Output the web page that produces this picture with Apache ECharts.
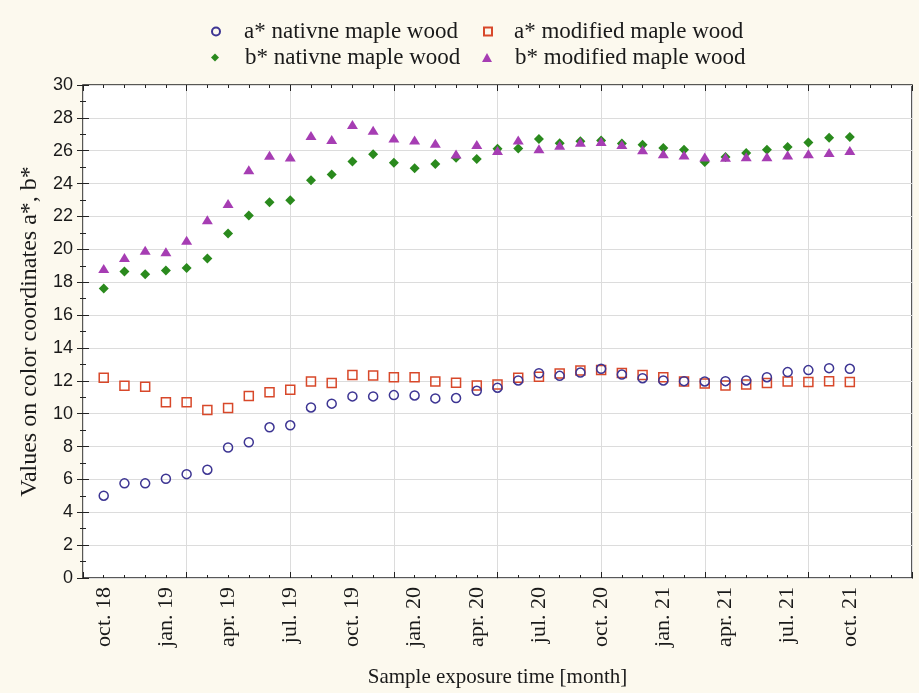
<!DOCTYPE html>
<html>
<head>
<meta charset="utf-8">
<script src="https://cdn.jsdelivr.net/npm/echarts@6/dist/echarts.min.js"></script>
<style>
html,body{margin:0;padding:0;background:#fcf9ee;}
#chart{width:919px;height:693px;}
</style>
</head>
<body>
<div id="chart"></div>
<script>
// Tick labels shown every 3 months, starting at month index 1 (oct. 18)
const tickLabels = ['oct. 18','jan. 19','apr. 19','jul. 19','oct. 19','jan. 20','apr. 20','jul. 20','oct. 20','jan. 21','apr. 21','jul. 21','oct. 21'];
const seriesNames = ['a* nativne maple wood','a* modified maple wood','b* nativne maple wood','b* modified maple wood'];

const aNative = [5.01,5.76,5.76,6.04,6.32,6.59,7.94,8.26,9.17,9.29,10.38,10.61,11.05,11.05,
  11.13,11.11,10.93,10.95,11.39,11.58,12.02,12.46,12.30,12.50,12.73,12.38,12.16,12.02,
  11.98,11.96,11.98,12.02,12.22,12.53,12.65,12.77,12.73];
const aModified = [12.18,11.70,11.64,10.69,10.69,10.22,10.34,11.07,11.31,11.45,11.96,11.86,12.36,12.32,
  12.22,12.22,11.96,11.88,11.72,11.78,12.18,12.24,12.44,12.63,12.65,12.48,12.36,12.22,
  11.96,11.84,11.72,11.78,11.86,11.96,11.92,11.98,11.92];
const bNative = [17.62,18.65,18.48,18.71,18.87,19.44,20.97,22.06,22.87,22.99,24.20,24.56,25.35,25.78,
  25.27,24.93,25.19,25.58,25.50,26.12,26.14,26.71,26.46,26.58,26.63,26.44,26.36,26.16,
  26.06,25.31,25.62,25.86,26.06,26.22,26.50,26.79,26.83];
const bModified = [18.83,19.50,19.94,19.86,20.55,21.80,22.79,24.85,25.72,25.62,26.93,26.69,27.60,27.24,
  26.77,26.65,26.46,25.80,26.38,26.02,26.65,26.12,26.34,26.52,26.56,26.38,26.06,25.82,
  25.74,25.62,25.60,25.64,25.64,25.74,25.82,25.90,26.02];

const toXY = arr => arr.map((v, i) => [i + 1, v]);

const serif = 'Liberation Serif';
const sans = 'Liberation Sans';

const tickLine = {color:'#222', width:1};

const chart = echarts.init(document.getElementById('chart'));
chart.setOption({
  backgroundColor: '#fcf9ee',
  animation: false,
  grid: {left: 83, right: 7, top: 85, bottom: 113, show: true, backgroundColor: '#ffffff', borderColor: '#222', borderWidth: 1.5},
  legend: [
    {data:[seriesNames[0]], left: 211, top: 20, padding: 0, itemWidth: 8, itemHeight: 8,
      textStyle:{fontFamily: serif, fontSize: 23, color:'#1a1a1a', padding:[0,0,0,19]}},
    {data:[seriesNames[1]], left: 483, top: 20, padding: 0, itemWidth: 8, itemHeight: 8,
      textStyle:{fontFamily: serif, fontSize: 23, color:'#1a1a1a', padding:[0,0,0,17]}},
    {data:[seriesNames[2]], left: 211, top: 46, padding: 0, itemWidth: 8, itemHeight: 8,
      textStyle:{fontFamily: serif, fontSize: 23, color:'#1a1a1a', padding:[0,0,0,21]}},
    {data:[seriesNames[3]], left: 482, top: 46, padding: 0, itemWidth: 10, itemHeight: 9,
      textStyle:{fontFamily: serif, fontSize: 23, color:'#1a1a1a', padding:[0,0,0,18]}}
  ],
  xAxis: [
    {type:'value', min:0, max:40, interval:5, position:'bottom',
      axisLine:{show:false}, axisLabel:{show:false},
      axisTick:{show:true, inside:true, length:6, lineStyle:tickLine},
      minorTick:{show:true, splitNumber:5, length:3, lineStyle:tickLine},
      splitLine:{show:true, lineStyle:{color:'#dcdcdc', width:1}}},
    {type:'value', min:0, max:40, interval:1, position:'bottom',
      axisLine:{show:false}, axisTick:{show:false}, splitLine:{show:false},
      axisLabel:{show:true, rotate:90, margin:9, fontFamily: serif, fontSize:22, color:'#1a1a1a',
        formatter: v => { const k = v - 1; return (k >= 0 && k % 3 === 0 && k/3 < tickLabels.length) ? tickLabels[k/3] : ''; }},
      name:'Sample exposure time [month]', nameLocation:'middle', nameGap:89,
      nameTextStyle:{fontFamily: serif, fontSize:21, color:'#1a1a1a'}},
    {type:'value', min:0, max:40, interval:5, position:'top',
      axisLine:{show:false}, axisLabel:{show:false}, splitLine:{show:false},
      axisTick:{show:true, inside:true, length:6, lineStyle:tickLine},
      minorTick:{show:true, splitNumber:5, length:3, lineStyle:tickLine}}
  ],
  yAxis: [
    {type:'value', min:0, max:30, interval:2, position:'left',
      axisLine:{show:false},
      axisTick:{show:true, inside:true, length:6, lineStyle:tickLine},
      minorTick:{show:true, splitNumber:2, length:3, lineStyle:tickLine},
      splitLine:{show:true, lineStyle:{color:'#dcdcdc', width:1}},
      axisLabel:{fontFamily: sans, fontSize:18, color:'#1a1a1a', margin:10},
      name:'Values on color coordinates a*, b*', nameLocation:'middle', nameGap:40,
      nameTextStyle:{fontFamily: serif, fontSize:24, color:'#1a1a1a'}},
    {type:'value', min:0, max:30, interval:2, position:'right',
      axisLine:{show:false}, axisLabel:{show:false}, splitLine:{show:false},
      axisTick:{show:true, inside:true, length:6, lineStyle:tickLine},
      minorTick:{show:true, splitNumber:2, length:3, lineStyle:tickLine}}
  ],
  series: [
    {name: seriesNames[0], type:'scatter', xAxisIndex:0, yAxisIndex:0, symbol:'circle', symbolSize:9,
      itemStyle:{color:'rgba(255,255,255,0)', borderColor:'#3d3593', borderWidth:1.5, opacity:1}, data: toXY(aNative), z:3},
    {name: seriesNames[1], type:'scatter', xAxisIndex:0, yAxisIndex:0, symbol:'rect', symbolSize:9,
      itemStyle:{color:'rgba(255,255,255,0)', borderColor:'#d8482a', borderWidth:1.5, opacity:1}, data: toXY(aModified), z:2},
    {name: seriesNames[2], type:'scatter', xAxisIndex:0, yAxisIndex:0, symbol:'diamond', symbolSize:[10,10],
      itemStyle:{color:'#2a8a1d', opacity:1}, data: toXY(bNative), z:2},
    {name: seriesNames[3], type:'scatter', xAxisIndex:0, yAxisIndex:0, symbol:'triangle', symbolSize:[11,9],
      itemStyle:{color:'#a63db3', opacity:1}, data: toXY(bModified), z:3}
  ]
});
</script>
</body>
</html>
